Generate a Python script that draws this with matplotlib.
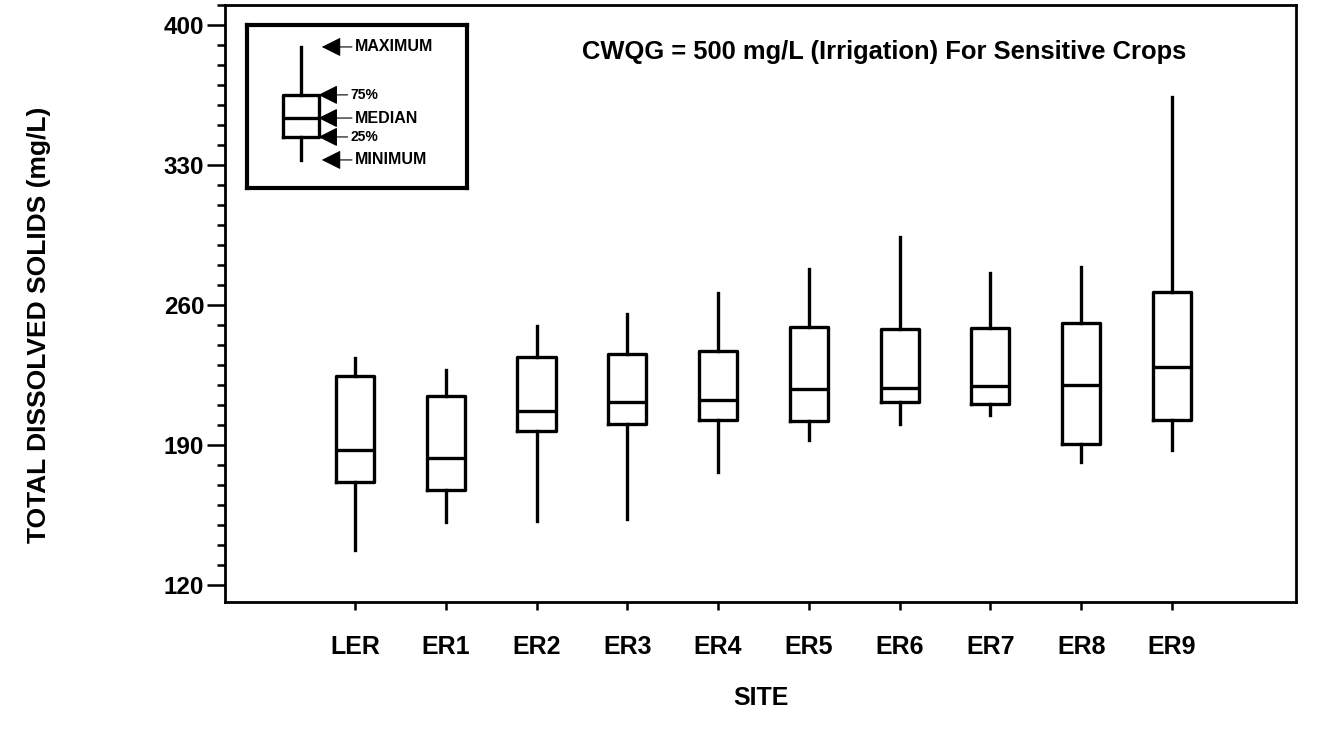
#!/usr/bin/env python3
"""TDS box plots by site, with a key box explaining the box elements."""
import matplotlib
matplotlib.use("Agg")
import matplotlib.pyplot as plt
from matplotlib.ticker import MultipleLocator

plt.rcParams["font.family"] = ["Liberation Sans", "DejaVu Sans"]

# ------- data (mg/L) -------
SITES = ["LER", "ER1", "ER2", "ER3", "ER4", "ER5", "ER6", "ER7", "ER8", "ER9"]
T_MIN = [137.5, 151.5, 152.0, 153.0, 176.5, 192.5, 200.5, 205.0, 181.5, 187.5]
T_Q1 = [171.5, 167.5, 197.0, 200.5, 202.5, 202.0, 211.5, 210.5, 190.5, 202.5]
T_MED = [187.5, 183.5, 207.0, 211.5, 212.5, 218.0, 218.5, 219.5, 220.0, 229.0]
T_Q3 = [224.5, 214.5, 234.0, 235.5, 237.0, 249.0, 248.0, 248.5, 251.0, 266.5]
T_MAX = [233.5, 227.5, 249.5, 255.5, 266.0, 278.0, 294.0, 276.0, 279.0, 364.0]

# key box: schematic values (fraction of key height)
KEY_LABELS = ["MAXIMUM", "75%", "MEDIAN", "25%", "MINIMUM"]
KEY_VALS = [0.865, 0.571, 0.429, 0.313, 0.172]

TITLE = "CWQG = 500 mg/L (Irrigation) For Sensitive Crops"

LW = 2.4
box_props = dict(boxprops=dict(color="black", lw=LW),
                 whiskerprops=dict(color="black", lw=LW),
                 medianprops=dict(color="black", lw=LW),
                 showcaps=False, showfliers=False)

fig = plt.figure(figsize=(13.18, 7.38), dpi=100)
ax = fig.add_axes([0.1707, 0.1843, 0.8126, 0.8089])

stats = []
for i, s in enumerate(SITES):
    stats.append(dict(label=s, whislo=T_MIN[i], q1=T_Q1[i], med=T_MED[i],
                      q3=T_Q3[i], whishi=T_MAX[i]))
pos = list(range(1, len(SITES) + 1))
ax.bxp(stats, positions=pos, widths=0.42, **box_props)

ax.set_xlim(-0.432, 11.366)
ax.set_ylim(111.5, 410)
ax.yaxis.set_minor_locator(MultipleLocator(10))
ax.set_yticks([120, 190, 260, 330, 400])
ax.set_xticks(pos)
ax.set_xticklabels(SITES)

for sp in ax.spines.values():
    sp.set_linewidth(2.0)
ax.tick_params(axis="y", which="major", direction="out", length=13, width=1.8,
               pad=2, labelsize=17.5)
ax.tick_params(axis="y", which="minor", direction="out", length=6, width=1.8)
ax.tick_params(axis="x", which="major", direction="out", length=6, width=1.8,
               pad=18, labelsize=18)
for t in ax.get_xticklabels() + ax.get_yticklabels():
    t.set_fontweight("bold")

ax.set_xlabel("SITE", fontsize=18, fontweight="bold")
ax.xaxis.set_label_coords(0.5, -0.141)
ax.set_ylabel("TOTAL DISSOLVED SOLIDS (mg/L)", fontsize=19, fontweight="bold")
ax.yaxis.set_label_coords(-0.162, 0.464)

ax.text(0.333, 0.921, TITLE, transform=ax.transAxes, fontsize=18.4,
        fontweight="bold", ha="left", va="center")

# ------- key box -------
kax = fig.add_axes([0.1874, 0.7453, 0.1669, 0.2209])
kax.set_xlim(0, 1)
kax.set_ylim(0, 1)
kax.set_xticks([])
kax.set_yticks([])
for sp in kax.spines.values():
    sp.set_linewidth(3.0)
kmax, kq3, kmed, kq1, kmin = KEY_VALS
kax.bxp([dict(whislo=kmin, q1=kq1, med=kmed, q3=kq3, whishi=kmax)],
        positions=[0.245], widths=0.164, manage_ticks=False, **box_props)
for lab, v in zip(KEY_LABELS, KEY_VALS):
    small = lab.endswith("%")
    tip = 0.325 if small or lab == "MEDIAN" else 0.34
    kax.annotate(lab, xy=(tip, v), xytext=(0.47 if small else 0.49, v),
                 fontsize=10 if small else 11.5, fontweight="bold",
                 va="center", ha="left",
                 arrowprops=dict(arrowstyle="-|>", color="black", lw=0.8,
                                 mutation_scale=30, shrinkA=0, shrinkB=0))

fig.savefig("out.png", dpi=100)
